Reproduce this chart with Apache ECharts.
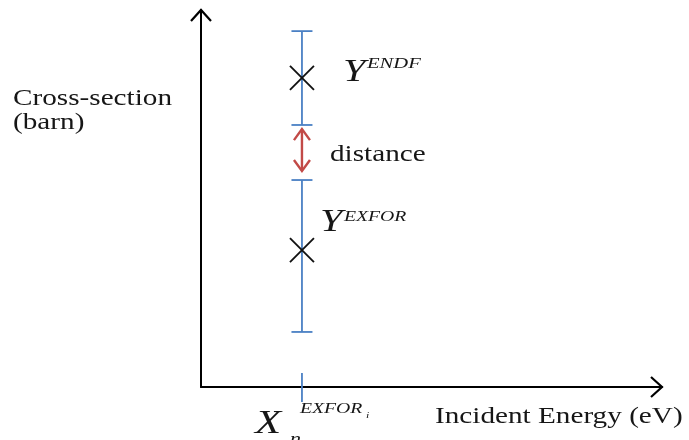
<!DOCTYPE html>
<html><head><meta charset="utf-8">
<script src="https://cdn.jsdelivr.net/npm/echarts@6/dist/echarts.min.js"></script>
<style>html,body{margin:0;padding:0;background:#fff}#c{width:689px;height:440px}</style>
</head><body><div id="c"></div>
<script>
// ---- data (arbitrary units 0..100) ----
const axisRange = [0, 100];
const xEnergy = [21.9];                 // X_n^{EXFOR_i} position on the energy axis
const endfPoint = [82.0];               // Y^ENDF
const endfRange = [69.5, 94.4];         // its error bar
const exforPoint = [36.3];              // Y^EXFOR
const exforRange = [14.6, 54.9];        // its error bar
const distanceRange = [57.3, 68.4];     // red double arrow
// ---- texts ----
const yTitle = ['Cross-section', '(barn)'];
const xTitle = ['Incident Energy (eV)'];
const endfLabel = ['Y', 'ENDF'];
const exforLabel = ['Y', 'EXFOR'];
const distanceLabel = ['distance'];
const xPointLabel = ['X', 'n', 'EXFOR', 'i'];

const SERIF = '"Liberation Serif", "Times New Roman", serif';
const TXT = '#161616';
const BLUE = '#4a80c4';
const RED = '#c24a47';
const SX = 1.3;

function txt(x, y, text, size, italic, sx) {
  return {type: 'text', x: x, y: y, scaleX: sx || SX,
    style: {text: text, font: (italic ? 'italic ' : '') + size + 'px ' + SERIF,
      fill: TXT, align: 'left', verticalAlign: 'middle'}};
}
function seg(x1, y1, x2, y2, color, w) {
  return {type: 'line', shape: {x1: x1, y1: y1, x2: x2, y2: y2},
    style: {stroke: color, lineWidth: w, lineCap: 'butt'}};
}
function poly(pts, color, w) {
  return {type: 'polyline', shape: {points: pts},
    style: {stroke: color, lineWidth: w, fill: null, lineJoin: 'miter'}};
}

const barData = [
  [xEnergy[0], endfRange[0], endfRange[1], endfPoint[0], 0],
  [xEnergy[0], exforRange[0], exforRange[1], exforPoint[0], 1]
];

function renderBar(params, api) {
  const x = api.value(0), lo = api.value(1), hi = api.value(2), mid = api.value(3), k = api.value(4);
  const pLo = api.coord([x, lo]), pHi = api.coord([x, hi]), pm = api.coord([x, mid]);
  const cap = 10.5, cr = 12;
  const ch = [
    seg(pLo[0], pLo[1], pHi[0], pHi[1], BLUE, 1.8),
    seg(pLo[0] - cap, pLo[1], pLo[0] + cap, pLo[1], BLUE, 1.8),
    seg(pHi[0] - cap, pHi[1], pHi[0] + cap, pHi[1], BLUE, 1.8),
    seg(pm[0] - cr, pm[1] - cr, pm[0] + cr, pm[1] + cr, '#111', 1.8),
    seg(pm[0] - cr, pm[1] + cr, pm[0] + cr, pm[1] - cr, '#111', 1.8)
  ];
  if (k === 0) {
    ch.push(txt(pm[0] + 41, pm[1] - 5.5, endfLabel[0], 31, true));
    ch.push(txt(pm[0] + 65, pm[1] - 14, endfLabel[1], 14.5, true, 1.42));
  } else {
    ch.push(txt(pm[0] + 18, pm[1] - 27.5, exforLabel[0], 31, true));
    ch.push(txt(pm[0] + 42, pm[1] - 33, exforLabel[1], 14.5, true, 1.36));
  }
  return {type: 'group', children: ch};
}

function renderDistance(params, api) {
  const x = api.value(0);
  const a = api.coord([x, api.value(1)]), b = api.coord([x, api.value(2)]);
  const hw = 8, hh = 11;
  return {type: 'group', children: [
    seg(a[0], a[1] - 1, b[0], b[1] + 1, RED, 2.4),
    poly([[b[0] - hw, b[1] + hh], [b[0], b[1]], [b[0] + hw, b[1] + hh]], RED, 2.4),
    poly([[a[0] - hw, a[1] - hh], [a[0], a[1]], [a[0] + hw, a[1] - hh]], RED, 2.4),
    txt(a[0] + 28, (a[1] + b[1]) / 2 + 5, distanceLabel[0], 23, false, 1.27)
  ]};
}

function renderTick(params, api) {
  const p = api.coord([api.value(0), api.value(1)]);
  return {type: 'group', children: [
    seg(p[0], p[1] - 14, p[0], p[1] + 15, BLUE, 1.8),
    txt(p[0] - 47, p[1] + 37.5, xPointLabel[0], 33, true),
    txt(p[0] - 12, p[1] + 53, xPointLabel[1], 17, true),
    txt(p[0] - 2, p[1] + 22, xPointLabel[2], 14.5, true, 1.36),
    txt(p[0] + 64, p[1] + 29, xPointLabel[3], 9, true, 1.3)
  ]};
}

function renderArrowHead(params, api) {
  const p = api.coord([api.value(0), api.value(1)]);
  const dir = api.value(2);
  const L = 11, W = 10;
  const pts = dir === 0
    ? [[p[0] - L, p[1] - W], [p[0], p[1]], [p[0] - L, p[1] + W]]
    : [[p[0] - W, p[1] + L], [p[0], p[1]], [p[0] + W, p[1] + L]];
  return poly(pts, '#000', 2.2);
}

const option = {
  animation: false,
  backgroundColor: '#fff',
  grid: {left: 201, right: 27, top: 10, bottom: 53},
  xAxis: {type: 'value', min: axisRange[0], max: axisRange[1],
    axisLine: {show: true, onZero: false, lineStyle: {color: '#000', width: 2}},
    axisTick: {show: false}, axisLabel: {show: false}, splitLine: {show: false}},
  yAxis: {type: 'value', min: axisRange[0], max: axisRange[1],
    axisLine: {show: true, onZero: false, lineStyle: {color: '#000', width: 2}},
    axisTick: {show: false}, axisLabel: {show: false}, splitLine: {show: false}},
  graphic: [
    txt(13, 98.5, yTitle[0], 23, false, 1.27),
    txt(13, 122.5, yTitle[1], 23, false, 1.27),
    txt(435, 417, xTitle[0], 23, false, 1.27)
  ],
  series: [
    {type: 'custom', clip: false, renderItem: renderArrowHead,
      data: [[axisRange[1], axisRange[0], 0], [axisRange[0], axisRange[1], 1]]},
    {type: 'custom', clip: false, renderItem: renderTick, data: [[xEnergy[0], axisRange[0]]]},
    {type: 'custom', clip: false, renderItem: renderBar, data: barData},
    {type: 'custom', clip: false, renderItem: renderDistance,
      data: [[xEnergy[0], distanceRange[0], distanceRange[1]]]}
  ]
};
const chart = echarts.init(document.getElementById('c'), null, {renderer: 'canvas'});
chart.setOption(option);
</script>
</body></html>
